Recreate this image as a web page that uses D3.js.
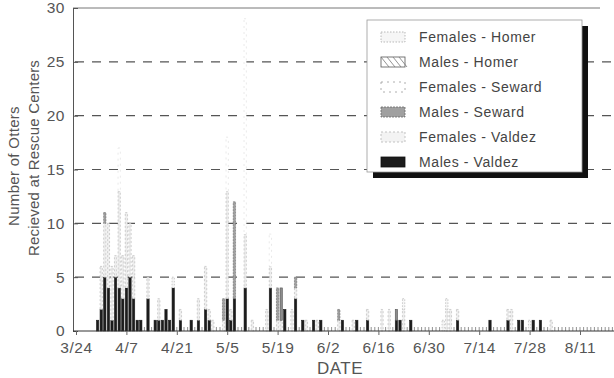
<!DOCTYPE html>
<html>
<head>
<meta charset="utf-8">
<script src="https://cdn.jsdelivr.net/npm/d3@7"></script>
<style>
  html, body { margin: 0; padding: 0; background: #ffffff; }
  svg { display: block; font-family: "Liberation Sans", Arial, sans-serif; }
</style>
</head>
<body>
<svg id="chart" width="614" height="378"></svg>
<script>
// ---- data ----
const dates = ["3/30","3/31","4/1","4/2","4/3","4/4","4/5","4/6","4/7","4/8","4/9","4/10","4/11","4/13","4/15","4/16","4/17","4/18","4/19","4/20","4/22","4/25","4/27","4/29","4/30","5/1","5/4","5/5","5/6","5/7","5/10","5/12","5/16","5/17","5/19","5/20","5/21","5/23","5/24","5/26","5/27","5/29","5/30","5/31","6/5","6/6","6/9","6/10","6/13","6/17","6/19","6/21","6/22","6/23","6/25","7/4","7/5","7/6","7/8","7/17","7/22","7/23","7/25","7/26","7/28","7/29","7/31","8/3"];
const femalesHomer  = [0,0,0,0,0,0,0,0,0,0,0,0,0,0,0,0,0,0,0,1,0,0,0,0,0,0,0,0,0,0,0,0,0,0,0,0,0,0,0,0,0,0,0,0,0,0,0,0,0,0,0,0,0,1,0,1,1,0,0,0,0,0,0,0,1,0,0,0];
const malesHomer    = [0,0,0,0,0,0,0,0,0,0,0,0,0,0,0,0,0,0,0,0,0,0,0,0,0,0,0,0,0,0,0,0,0,0,0,3,0,0,0,0,0,0,0,0,0,0,0,0,0,0,0,1,0,0,0,0,0,0,0,0,0,0,0,0,0,0,0,0];
const femalesSeward = [0,0,0,0,0,0,4,0,0,0,0,0,0,0,0,0,0,0,0,0,0,0,0,0,0,0,0,5,0,0,20,0,0,3,0,0,0,0,0,0,0,0,0,0,0,0,0,0,0,0,0,0,0,0,0,0,0,0,0,0,0,0,0,0,0,0,0,0];
const malesSeward   = [0,0,1,0,0,0,0,0,0,0,0,0,0,0,0,0,0,0,0,0,0,0,0,0,0,0,2,0,0,9,0,0,0,0,3,0,0,0,1,0,0,0,0,0,1,0,0,0,0,0,0,0,0,0,0,0,0,0,0,0,0,0,0,0,0,0,0,0];
const femalesValdez = [0,4,5,6,5,2,9,4,7,5,4,0,0,2,0,2,0,0,0,0,1,0,2,4,1,1,1,10,1,0,5,1,2,2,1,1,0,2,1,0,1,0,1,0,1,0,1,0,1,2,2,0,0,2,0,0,2,2,1,0,1,2,0,0,0,0,0,1];
const malesValdez   = [1,2,5,4,1,5,4,3,4,5,3,1,1,3,1,1,1,2,1,4,1,1,1,2,1,0,0,3,1,3,4,0,0,4,0,0,2,0,3,1,0,1,0,1,0,1,0,1,1,0,0,1,1,0,1,0,0,0,1,1,1,0,1,1,0,1,1,0];
const tickLabels = ["3/24","4/7","4/21","5/5","5/19","6/2","6/16","6/30","7/14","7/28","8/11"];
const yTicks = [0,5,10,15,20,25,30];
const legendLabels = ["Females - Homer","Males - Homer","Females - Seward","Males - Seward","Females - Valdez","Males - Valdez"];
const seriesKeys = ["fh","mh","fs","ms","fv","mv"];

// ---- build table ----
const parse = d3.timeParse("%m/%d/%Y");
const toDate = s => parse(s + "/1989");
const rows = dates.map((d, i) => ({
  date: toDate(d),
  fh: femalesHomer[i], mh: malesHomer[i], fs: femalesSeward[i],
  ms: malesSeward[i], fv: femalesValdez[i], mv: malesValdez[i]
}));

const svg = d3.select("#chart");
const W = 614, H = 378;
const plotLeft = 73, plotTop = 8, plotBottom = 331;

const x = d3.scaleTime()
  .domain([toDate("3/24"), toDate("8/21")])
  .range([76, 616]);
const y = d3.scaleLinear().domain([0, 30]).range([plotBottom, plotTop]);

// styles per series
const styles = {
  fh: { fill: "#f6f6f6", stroke: "#a8a8a8", dash: "1.5,1.5" },
  mh: { fill: "#8c8c8c", stroke: "#555", dash: null },
  fs: { fill: "#ffffff", stroke: "#dadada", dash: "2,4" },
  ms: { fill: "#a0a0a0", stroke: "#6a6a6a", dash: "2,1" },
  fv: { fill: "#ededed", stroke: "#b4b4b4", dash: "2,2" },
  mv: { fill: "#1c1c1c", stroke: "#1c1c1c", dash: null }
};

// gridlines (dashed)
svg.append("g").selectAll("line")
  .data(yTicks.filter(v => v > 0 && v < 30))
  .join("line")
  .attr("x1", plotLeft + 2).attr("x2", W)
  .attr("y1", d => y(d)).attr("y2", d => y(d))
  .attr("stroke", "#555").attr("stroke-width", 1.1)
  .attr("stroke-dasharray", "9,8");

// top frame line
svg.append("line").attr("x1", plotLeft).attr("x2", 600)
  .attr("y1", y(30)).attr("y2", y(30))
  .attr("stroke", "#777").attr("stroke-width", 1);

// minor daily ticks
const days = d3.timeDay.range(toDate("3/30"), toDate("8/22"));
svg.append("g").selectAll("line").data(days).join("line")
  .attr("x1", d => x(d)).attr("x2", d => x(d))
  .attr("y1", plotBottom).attr("y2", plotBottom - 4)
  .attr("stroke", "#777").attr("stroke-width", 0.8);

// stacked bars (bottom to top: Males Valdez first)
const stackOrder = ["mv","fv","ms","fs","mh","fh"];
const stacked = d3.stack().keys(stackOrder)(rows);
const bw = 2.3;
svg.append("g").selectAll("g").data(stacked).join("g")
  .each(function(layer) {
    const st = styles[layer.key];
    d3.select(this).selectAll("rect")
      .data(layer.filter(d => d[1] - d[0] > 0))
      .join("rect")
      .attr("x", d => x(d.data.date) - bw / 2)
      .attr("width", bw)
      .attr("y", d => y(d[1]))
      .attr("height", d => y(d[0]) - y(d[1]))
      .attr("fill", st.fill)
      .attr("stroke", st.stroke)
      .attr("stroke-width", 0.6)
      .attr("stroke-dasharray", st.dash);
  });

// y axis
const yAxis = d3.axisLeft(y).tickValues(yTicks).tickSize(-5).tickPadding(8);
const ya = svg.append("g").attr("transform", `translate(${plotLeft},0)`).call(yAxis);
ya.select(".domain").attr("stroke", "#555");
ya.selectAll(".tick line").attr("stroke", "#555");
ya.selectAll("text").attr("fill", "#555").attr("font-size", 15.5)
  .attr("letter-spacing", 0.5)
  .attr("font-family", "'Liberation Sans', Arial, sans-serif");

// x axis
const tickDates = tickLabels.map(toDate);
const xAxis = d3.axisBottom(x).tickValues(tickDates)
  .tickFormat((d, i) => tickLabels[i]).tickSize(4).tickPadding(7).tickSizeOuter(0);
const xa = svg.append("g").attr("transform", `translate(0,${plotBottom})`).call(xAxis);
xa.select(".domain").attr("d", `M${plotLeft},0H${W}`).attr("stroke", "#333");
xa.selectAll(".tick line").attr("stroke", "#666");
xa.selectAll("text").attr("fill", "#555").attr("font-size", 15.5)
  .attr("letter-spacing", 0.6)
  .attr("font-family", "'Liberation Sans', Arial, sans-serif");

// axis titles
svg.append("text").attr("x", 340).attr("y", 374).attr("text-anchor", "middle")
  .attr("fill", "#555").attr("font-size", 17).attr("letter-spacing", 0.5)
  .text("DATE");
svg.append("text").attr("transform", "translate(19,166) rotate(-90)")
  .attr("text-anchor", "middle").attr("fill", "#555").attr("font-size", 15)
  .attr("letter-spacing", 0.3)
  .text("Number of Otters");
svg.append("text").attr("transform", "translate(39,158) rotate(-90)")
  .attr("text-anchor", "middle").attr("fill", "#555").attr("font-size", 15)
  .attr("letter-spacing", 0.2)
  .text("Recieved at Rescue Centers");

// legend with drop shadow
const lg = svg.append("g");
const lx = 367, ly = 20, lw = 215, lh = 152;
lg.append("rect").attr("x", lx + 6).attr("y", ly + 6).attr("width", lw).attr("height", lh)
  .attr("fill", "#111");
lg.append("rect").attr("x", lx).attr("y", ly).attr("width", lw).attr("height", lh)
  .attr("fill", "#fff").attr("stroke", "#999").attr("stroke-width", 0.8);
seriesKeys.forEach((k, i) => {
  const cy = 37 + i * 25;
  const st = styles[k];
  const sw = lg.append("rect").attr("x", 381).attr("y", cy - 5).attr("width", 24).attr("height", 10)
    .attr("fill", k === "fv" ? "#f3f3f3" : st.fill)
    .attr("stroke", k === "mv" ? "#111" : (k === "fs" ? "#999" : st.stroke))
    .attr("stroke-width", 0.8)
    .attr("stroke-dasharray", st.dash);
  if (k === "mh") {
    sw.attr("fill", "#fff");
    lg.append("g").selectAll("line").data(d3.range(0, 4)).join("line")
      .attr("x1", d => 381 + d * 6).attr("y1", cy - 5)
      .attr("x2", d => 381 + d * 6 + 8).attr("y2", cy + 5)
      .attr("stroke", "#777").attr("stroke-width", 0.8);
  }
  lg.append("text").attr("x", 419).attr("y", cy + 5)
    .attr("fill", "#444").attr("font-size", 14).attr("letter-spacing", 0.6)
    .text(legendLabels[i]);
});
</script>
</body>
</html>
